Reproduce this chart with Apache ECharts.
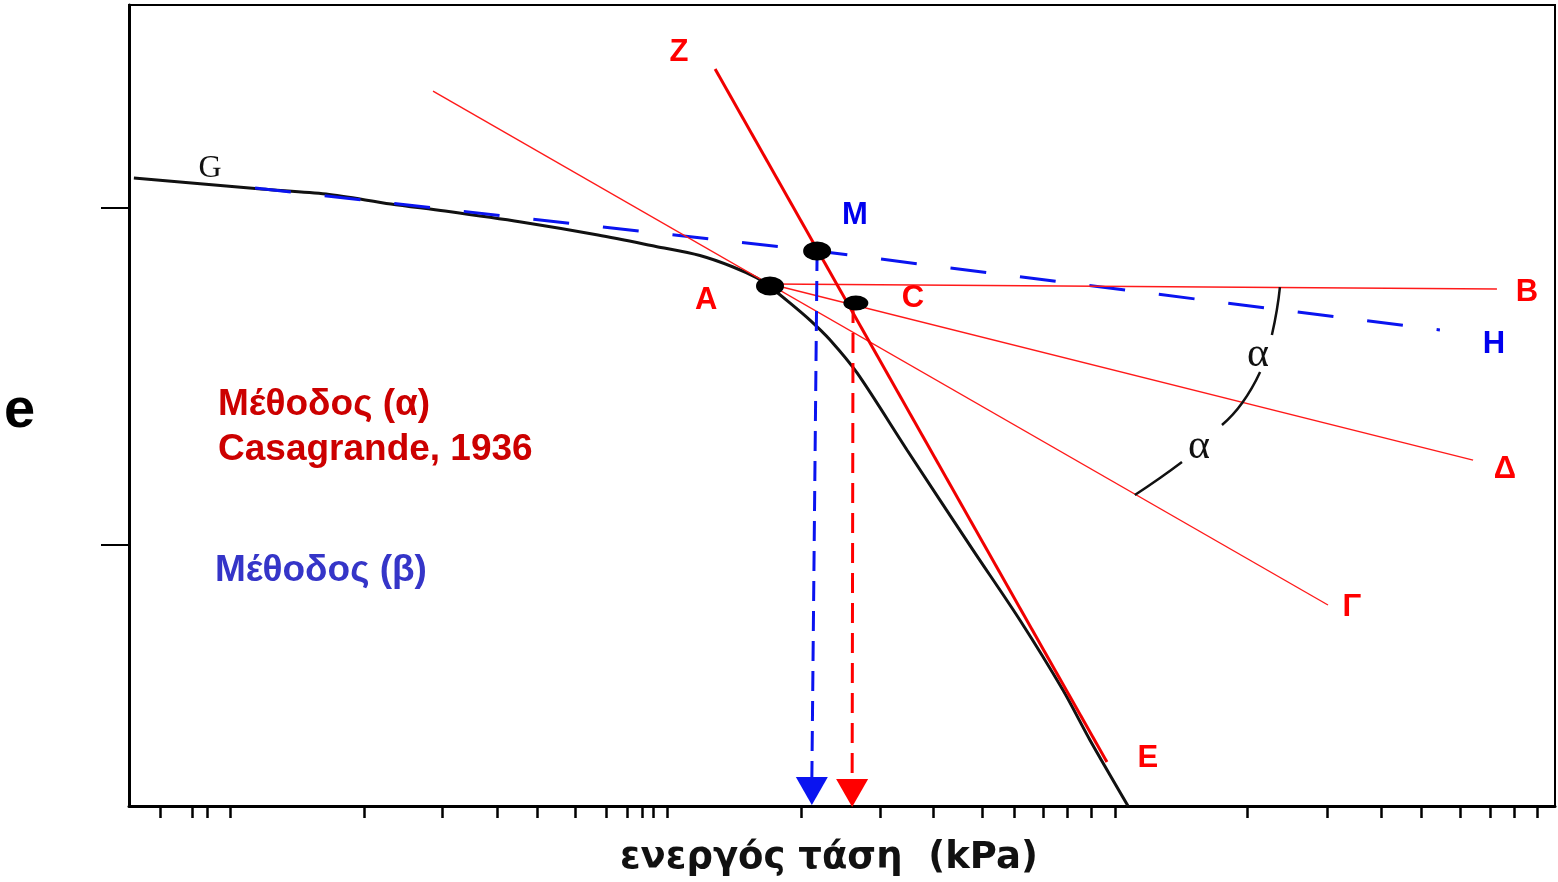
<!DOCTYPE html>
<html>
<head>
<meta charset="utf-8">
<title>Casagrande – τάση προστερεοποίησης</title>
<script src="https://cdn.jsdelivr.net/npm/echarts@6/dist/echarts.min.js"></script>
<style>
  html, body { margin: 0; padding: 0; background: #fff; }
  #chart { width: 1558px; height: 882px; }
</style>
</head>
<body>
<div id="chart"></div>
<script>
// x: log10 of effective stress (kPa), y: void ratio e
const xRange = [-0.1677, 4.4323];
const yRange = [0.6451, 1.1205];

// tick marks of the logarithmic stress axis (log10 kPa)
const xTicks = [-0.068, 0.035, 0.084, 0.158, 0.590, 0.842, 1.019, 1.148, 1.271, 1.371,
  1.439, 1.487, 1.523, 1.568, 2.000, 2.255, 2.426, 2.584, 2.687, 2.781, 2.858, 2.935,
  3.013, 3.439, 3.697, 3.871, 4.000, 4.126, 4.223, 4.300, 4.374];
const yTicks = [0.8, 1.0];

// compression curve e - log σ'
const curveLogS = [-0.152, 0.258, 0.468, 0.677, 0.852, 1.097, 1.345, 1.532, 1.674, 1.781,
  1.858, 1.900, 1.965, 2.029, 2.094, 2.181, 2.342, 2.555, 2.706, 2.845, 2.932, 3.055];
const curveE = [1.0178, 1.0113, 1.0083, 1.0024, 0.9982, 0.9917, 0.9840, 0.9772, 0.9718, 0.9650,
  0.9585, 0.9531, 0.9436, 0.9335, 0.9217, 0.9021, 0.8564, 0.7970, 0.7555, 0.7139, 0.6843, 0.6451];

// construction points
const pointA = [1.900, 0.9537];   // point of maximum curvature
const pointM = [2.052, 0.9745];   // method (β) intersection
const pointC = [2.177, 0.9436];   // method (α) intersection

// method (α): tangent, horizontal, bisector, virgin line
const tangentA = [[0.813, 1.0694], [3.700, 0.7644]];
const horizontalA = [[1.900, 0.9549], [4.245, 0.9519]];
const bisectorA = [[1.900, 0.9549], [4.168, 0.8504]];
const virginZE = [[1.723, 1.0825], [2.987, 0.6712]];

// method (β): extension of the recompression branch
const recompGH = [[0.239, 1.0119], [2.052, 0.9745], [4.061, 0.9276]];

// angle arc (split where the α symbols sit)
const arcSegments = [
  [[3.545, 0.9531], [3.535, 0.9395], [3.519, 0.9246]],
  [[3.481, 0.9027], [3.423, 0.8843], [3.358, 0.8712]],
  [[3.229, 0.8493], [3.158, 0.8398], [3.077, 0.8297]]
];

// projections of M and C onto the stress axis
const dropM = [[2.052, 0.9745], [2.035, 0.6605]];
const dropC = [[2.168, 0.9436], [2.165, 0.6605]];
const arrowTips = [[2.035, 0.6457, '#0a14f0'], [2.165, 0.6445, '#ff0000']];

// point letters and angle symbols
const letterNames = ['Z', 'M', 'A', 'C', 'B', 'H', 'Δ', 'Γ', 'E', 'α', 'α', 'G'];
const letterPos = [[1.606, 1.0926], [2.174, 0.9958], [1.694, 0.9454], [2.361, 0.9466],
  [4.342, 0.9496], [4.235, 0.9193], [4.271, 0.8451], [3.777, 0.7632], [3.119, 0.6736],
  [3.474, 0.9128], [3.284, 0.8582], [0.094, 1.0237]];

const RED = '#ff0000';
const BLUE = '#0a14f0';
const SANS = '"Liberation Sans", Arial, sans-serif';
const SERIF = '"Liberation Serif", "DejaVu Serif", serif';

const letterStyle = {
  Z: { color: RED }, A: { color: RED }, C: { color: RED }, B: { color: RED },
  'Δ': { color: RED }, 'Γ': { color: RED }, E: { color: RED },
  M: { color: '#0000ee' }, H: { color: '#0000ee' },
  'α': { color: '#111', fontFamily: SERIF, fontWeight: 'normal', fontSize: 42 },
  G: { color: '#111', fontFamily: SERIF, fontWeight: 'normal', fontSize: 32 }
};

const zip = (xs, ys) => xs.map((x, i) => [x, ys[i]]);

function lineSeries(data, color, width, type, z) {
  return {
    type: 'line', data: data, symbol: 'none', silent: true, z: z || 2,
    lineStyle: { color: color, width: width, type: type || 'solid', cap: 'butt', opacity: 1 }
  };
}

const series = [
  Object.assign(lineSeries(zip(curveLogS, curveE), '#111', 3), { smooth: 0.3 }),
  lineSeries(recompGH, BLUE, 3, [36, 34]),
  lineSeries(tangentA, '#ff1a1a', 1.4),
  lineSeries(horizontalA, '#ff1a1a', 1.4),
  lineSeries(bisectorA, '#ff1a1a', 1.4),
  lineSeries(virginZE, '#f00000', 3, 'solid', 3),
  lineSeries(dropM, BLUE, 3, [20, 10]),
  lineSeries(dropC, RED, 3, [20, 10])
];
arcSegments.forEach(seg => {
  series.push(Object.assign(lineSeries(seg, '#111', 2.5), { smooth: true }));
});

series.push({
  type: 'custom', silent: true, z: 4, clip: false,
  data: arrowTips,
  renderItem: function (params, api) {
    const p = api.coord([api.value(0), api.value(1)]);
    const w = 32, h = 28;
    return {
      type: 'polygon',
      shape: { points: [[p[0], p[1]], [p[0] - w / 2, p[1] - h], [p[0] + w / 2, p[1] - h]] },
      style: { fill: arrowTips[params.dataIndex][2] }
    };
  }
});

series.push({
  type: 'scatter', silent: true, z: 5,
  symbol: 'circle',
  data: [
    { value: pointA, symbolSize: [28, 19] },
    { value: pointM, symbolSize: [28, 19] },
    { value: pointC, symbolSize: [25, 15] }
  ],
  itemStyle: { color: '#000', opacity: 1 }
});

series.push({
  type: 'scatter', silent: true, z: 6, symbolSize: 1,
  itemStyle: { color: 'rgba(0,0,0,0)', opacity: 1 },
  data: letterNames.map((n, i) => ({
    name: n, value: letterPos[i],
    label: Object.assign({
      show: true, position: 'inside', formatter: '{b}', opacity: 1,
      fontFamily: SANS, fontWeight: 'bold', fontSize: 31
    }, letterStyle[n])
  }))
});

const chart = echarts.init(document.getElementById('chart'), null, { renderer: 'canvas' });
chart.setOption({
  animation: false,
  backgroundColor: '#fff',
  grid: { left: 129, right: 3, top: 5, bottom: 76, show: true, borderColor: '#000', borderWidth: 2 },
  xAxis: {
    type: 'value', min: xRange[0], max: xRange[1],
    axisLine: { onZero: false, lineStyle: { color: '#000', width: 3 } },
    axisTick: { show: true, customValues: xTicks, length: 12, lineStyle: { color: '#000', width: 2.5 } },
    axisLabel: { show: false },
    splitLine: { show: false }
  },
  yAxis: {
    type: 'value', min: yRange[0], max: yRange[1],
    axisLine: { onZero: false, lineStyle: { color: '#000', width: 3 } },
    axisTick: { show: true, customValues: yTicks, length: 28, lineStyle: { color: '#000', width: 2 } },
    axisLabel: { show: false },
    splitLine: { show: false }
  },
  graphic: [
    { type: 'text', left: 218, top: 386, style: { text: 'Μέθοδος (α)', fill: '#cc0000', font: 'bold 37px ' + SANS } },
    { type: 'text', left: 218, top: 431, style: { text: 'Casagrande, 1936', fill: '#cc0000', font: 'bold 37px ' + SANS } },
    { type: 'text', left: 215, top: 552, style: { text: 'Μέθοδος (β)', fill: '#3535c8', font: 'bold 37px ' + SANS } },
    { type: 'text', left: 4, top: 384, style: { text: 'e', fill: '#000', font: 'bold 56px ' + SANS } },
    { type: 'text', left: 620, top: 840, style: { text: 'ενεργός τάση  (kPa)', fill: '#111', font: 'bold 37px "DejaVu Sans", sans-serif' } }
  ],
  series: series
});
</script>
</body>
</html>
